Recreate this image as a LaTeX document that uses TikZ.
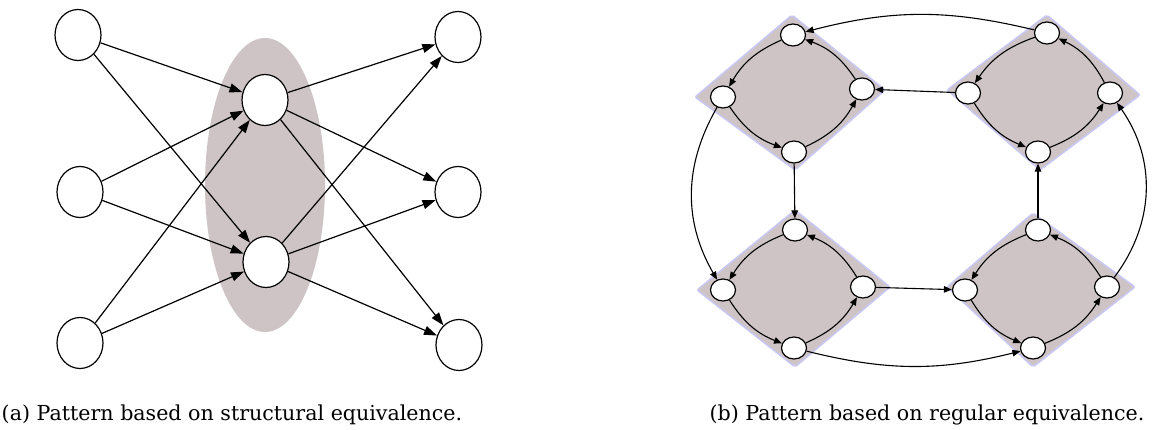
\documentclass[tikz,border=0pt]{standalone}
\usepackage{fontspec}
\setmainfont{DejaVu Serif}
\usetikzlibrary{arrows.meta,shapes.geometric}
\definecolor{grp}{RGB}{206,196,198}
\definecolor{glow}{RGB}{200,200,245}
\tikzset{
  bignode/.style={draw=black, fill=white, line width=1.2pt, ellipse, minimum width=46pt, minimum height=51pt, inner sep=0pt},
  smallnode/.style={draw=black, fill=white, line width=1.2pt, ellipse, minimum width=25pt, minimum height=22pt, inner sep=0pt},
  bigedge/.style={line width=1.2pt, -{Triangle[length=13pt,width=9pt]}},
  smalledge/.style={line width=1.1pt, -{Triangle[length=8pt,width=6.5pt]}},
  dia/.style={fill=grp, draw=glow, line width=1.5pt, rounded corners=2pt},
  caption/.style={font=\fontsize{20.6}{24}\selectfont, anchor=base}
}
\begin{document}
\begin{tikzpicture}[x=1pt,y=-1pt]
\useasboundingbox (0,0) rectangle (1174,430);
% ---------- (a) ----------
\fill[grp] (265,185) ellipse [x radius=60, y radius=147];
\node[bignode] (l1) at (78,35) {};
\node[bignode] (l2) at (80,192) {};
\node[bignode] (l3) at (80,343) {};
\node[bignode] (m1) at (265,100) {};
\node[bignode] (m2) at (266,262) {};
\node[bignode] (r1) at (458,37) {};
\node[bignode] (r2) at (458,192) {};
\node[bignode] (r3) at (459,345) {};
\foreach \a in {l1,l2,l3}{
  \foreach \b in {m1,m2}{ \draw[bigedge] (\a) -- (\b); }
}
\foreach \a in {m1,m2}{
  \foreach \b in {r1,r2,r3}{ \draw[bigedge] (\a) -- (\b); }
}
% ---------- (b) ----------
\draw[dia] (792,15) -- (885,90) -- (795,170) -- (695,97) -- cycle;
\draw[dia] (1047,15) -- (1140,95) -- (1040,170) -- (947,90) -- cycle;
\draw[dia] (795,210) -- (890,287) -- (795,367) -- (697,290) -- cycle;
\draw[dia] (1033,213) -- (1135,287) -- (1033,367) -- (947,287) -- cycle;
% top-left group
\node[smallnode] (at) at (793,35) {};
\node[smallnode] (al) at (723,97) {};
\node[smallnode] (ar) at (862,89) {};
\node[smallnode] (ab) at (794,152) {};
% top-right group
\node[smallnode] (bt) at (1047,33) {};
\node[smallnode] (bl) at (968,93) {};
\node[smallnode] (br) at (1110,93) {};
\node[smallnode] (bb) at (1038,152) {};
% bottom-left group
\node[smallnode] (ct) at (795,230) {};
\node[smallnode] (cl) at (723,290) {};
\node[smallnode] (cr) at (863,287) {};
\node[smallnode] (cb) at (794,348) {};
% bottom-right group
\node[smallnode] (dt) at (1038,230) {};
\node[smallnode] (dl) at (965,290) {};
\node[smallnode] (dr) at (1107,287) {};
\node[smallnode] (db) at (1033,348) {};
% cycles within groups
\foreach \g in {a,b,c,d}{
  \draw[smalledge] (\g t) to[bend right=18] (\g l);
  \draw[smalledge] (\g l) to[bend right=18] (\g b);
  \draw[smalledge] (\g b) to[bend right=18] (\g r);
  \draw[smalledge] (\g r) to[bend right=18] (\g t);
}
% between groups
\draw[smalledge] (bt) to[bend right=14] (at);
\draw[smalledge] (bl) -- (ar);
\draw[smalledge] (ab) -- (ct);
\draw[smalledge] (al) to[bend right=30] (cl);
\draw[smalledge] (cr) -- (dl);
\draw[smalledge] (cb) to[bend right=14] (db);
\draw[smalledge] (dt) -- (bb);
\draw[smalledge] (dr) to[bend right=36] (br);
% captions
\node[caption] (capa) at (232,420) {(a) Pattern based on structural equivalence.};
\node[caption] (capb) at (927,420) {(b) Pattern based on regular equivalence.};
\end{tikzpicture}
\end{document}
